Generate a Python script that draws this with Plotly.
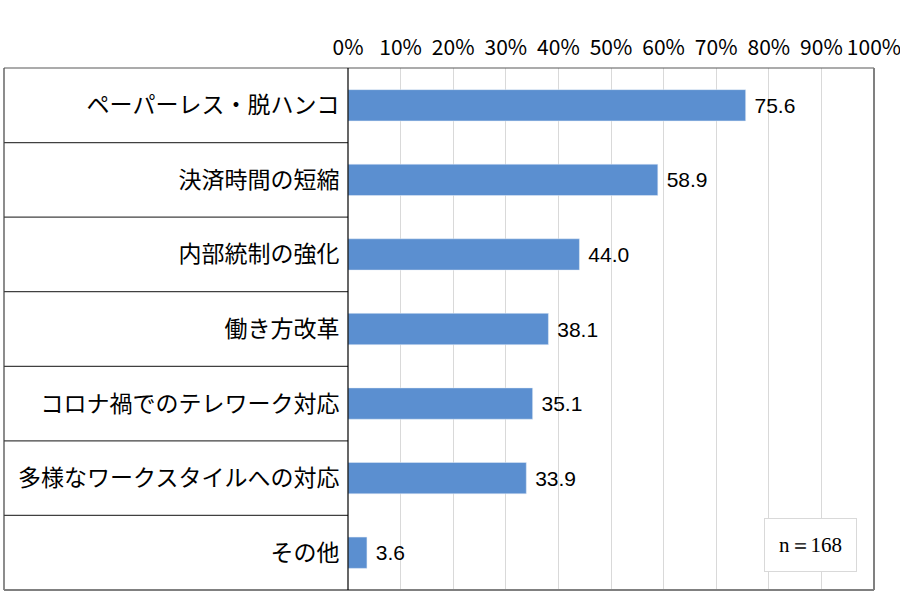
import plotly.graph_objects as go

# data
categories = ['ペーパーレス・脱ハンコ', '決済時間の短縮', '内部統制の強化', '働き方改革',
              'コロナ禍でのテレワーク対応', '多様なワークスタイルへの対応', 'その他']
values = [75.6, 58.9, 44.0, 38.1, 35.1, 33.9, 3.6]
x_ticks = [0, 10, 20, 30, 40, 50, 60, 70, 80, 90, 100]
n_label = 'n＝168'

jp_font = 'Noto Sans CJK JP'

fig = go.Figure()

fig.add_trace(go.Bar(
    x=values, y=categories, orientation='h',
    marker=dict(color='#5B8FD0'),
    width=0.42,
    text=[f' {v:.1f}' for v in values],
    textposition='outside',
    textfont=dict(family='Liberation Sans', size=21, color='#000000'),
    cliponaxis=False,
))

# left "table" borders
left = -(348 - 4) / 526
shapes = []
for i in range(len(categories) - 1):
    shapes.append(dict(type='line', xref='paper', yref='y', x0=left, x1=0,
                       y0=i + 0.5, y1=i + 0.5, line=dict(color='#404040', width=1.2)))
shapes.append(dict(type='line', xref='paper', yref='paper', x0=left, x1=left, y0=0, y1=1,
                   line=dict(color='#404040', width=1.2)))
shapes.append(dict(type='line', xref='paper', yref='paper', x0=left, x1=1, y0=1, y1=1,
                   line=dict(color='#595959', width=1.2)))
shapes.append(dict(type='line', xref='paper', yref='paper', x0=left, x1=1, y0=0, y1=0,
                   line=dict(color='#808080', width=2)))
shapes.append(dict(type='line', xref='paper', yref='paper', x0=1, x1=1, y0=0, y1=1,
                   line=dict(color='#808080', width=2)))
shapes.append(dict(type='line', xref='paper', yref='paper', x0=0, x1=0, y0=0, y1=1,
                   line=dict(color='#000000', width=1.2)))

fig.update_layout(
    width=900, height=613,
    margin=dict(l=348, r=26, t=68, b=23, autoexpand=False),
    paper_bgcolor='white', plot_bgcolor='white',
    showlegend=False,
    shapes=shapes,
    font=dict(family=jp_font, color='#000000'),
    annotations=[dict(
        text=n_label, xref='paper', yref='paper', x=0.968, y=0.034,
        xanchor='right', yanchor='bottom', showarrow=False,
        font=dict(family='Liberation Serif', size=21, color='#000000'),
        bordercolor='#d9d9d9', borderwidth=1, borderpad=14, bgcolor='white',
    )],
)

fig.update_xaxes(
    side='top', range=[0, 100], tickvals=x_ticks,
    ticktext=[f'{t}%' for t in x_ticks],
    tickfont=dict(family=jp_font, size=21),
    showgrid=True, gridcolor='#d9d9d9', gridwidth=1,
    zeroline=False, showline=False, ticks='',
    ticklabelstandoff=8, ticklabeloverflow='allow',
    automargin=False, fixedrange=True,
)
fig.update_yaxes(
    categoryorder='array', categoryarray=categories,
    range=[len(categories) - 0.5, -0.5],
    tickfont=dict(family=jp_font, size=23),
    showgrid=False, zeroline=False, showline=False,
    ticks='outside', ticklen=3, tickcolor='rgba(0,0,0,0)',
    automargin=False, fixedrange=True,
)

fig.write_html('out.html', config={'displayModeBar': False},
               post_script="document.body.style.margin='0';")
